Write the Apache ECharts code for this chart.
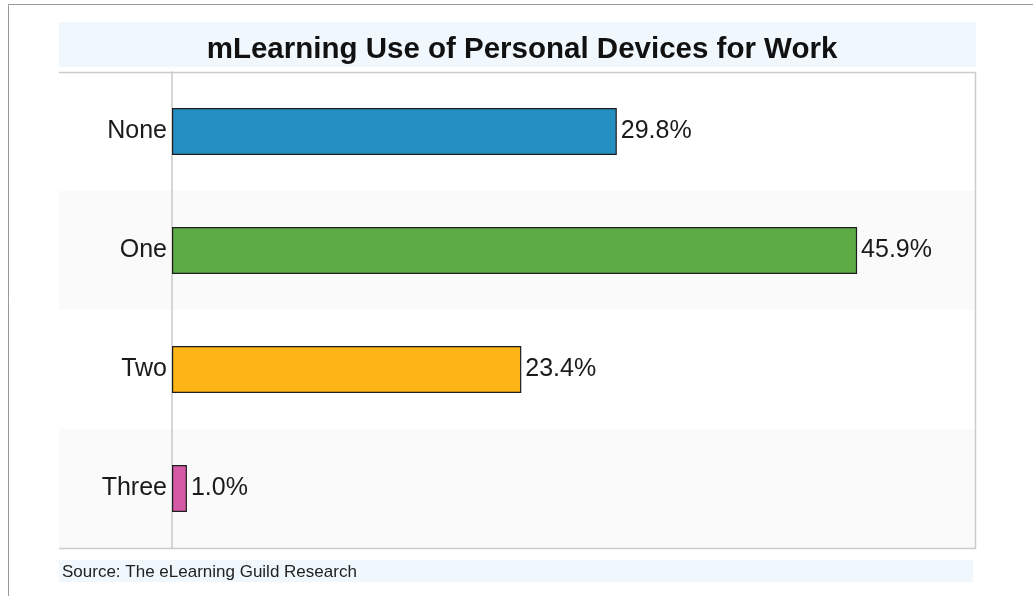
<!DOCTYPE html>
<html>
<head>
<meta charset="utf-8">
<script src="https://cdn.jsdelivr.net/npm/echarts@6/dist/echarts.min.js"></script>
<style>html,body{margin:0;padding:0;background:#fff}#c{width:1033px;height:596px}</style>
</head>
<body>
<div id="c"></div>
<script>
const categories = ['None', 'One', 'Two', 'Three'];
const values = [29.8, 45.9, 23.4, 1.0];
const barColors = ['#268fc2', '#5dab45', '#fdb516', '#d45aa5'];
const titleText = 'mLearning Use of Personal Devices for Work';
const sourceText = 'Source: The eLearning Guild Research';

const chart = echarts.init(document.getElementById('c'));
const font = 'Arial, "Liberation Sans", sans-serif';
chart.setOption({
  backgroundColor: '#ffffff',
  animation: false,
  graphic: [
    { type: 'rect', z: -10, silent: true, shape: { x: 8.5, y: 4.5, width: 1100, height: 700 }, style: { fill: '#fff', stroke: '#9a9a9a', lineWidth: 1 } },
    { type: 'rect', z: -9, silent: true, shape: { x: 59, y: 22, width: 917, height: 45 }, style: { fill: '#f0f8fd' } },
    { type: 'rect', z: -9, silent: true, shape: { x: 59, y: 191, width: 916, height: 119 }, style: { fill: '#fafafa' } },
    { type: 'rect', z: -9, silent: true, shape: { x: 59, y: 429, width: 916, height: 119 }, style: { fill: '#fafafa' } },
    { type: 'polyline', z: -8, silent: true, shape: { points: [[59, 72.5], [975.5, 72.5], [975.5, 548.5], [59, 548.5]] }, style: { fill: 'none', stroke: '#cccccc', lineWidth: 1.5 } },
    { type: 'rect', z: -9, silent: true, shape: { x: 59, y: 560, width: 914, height: 22 }, style: { fill: '#f0f8fd' } },
    { type: 'text', z: 10, silent: true, style: { x: 62, y: 572, text: sourceText, fill: '#222', font: '17px ' + font, verticalAlign: 'middle' } }
  ],
  title: {
    text: titleText,
    left: 517, top: 45, textAlign: 'center', textVerticalAlign: 'middle',
    textStyle: { fontFamily: font, fontSize: 29.5, fontWeight: 'bold', color: '#111' }
  },
  grid: { left: 172, right: 58, top: 72, bottom: 48, containLabel: false },
  xAxis: {
    type: 'value', min: 0, max: 53.8,
    axisLine: { show: false }, axisTick: { show: false }, axisLabel: { show: false },
    splitLine: { show: false }
  },
  yAxis: {
    type: 'category', data: categories, inverse: true,
    axisLine: { show: true, lineStyle: { color: '#c8c8c8', width: 1.5 } },
    axisTick: { show: false },
    axisLabel: { margin: 5, fontFamily: font, fontSize: 25, color: '#1a1a1a', padding: [3, 0, 0, 0] },
    splitLine: { show: false }
  },
  series: [{
    type: 'bar',
    data: values.map((v, i) => ({ value: v, itemStyle: { color: barColors[i] } })),
    barWidth: 47,
    itemStyle: { borderColor: '#1e1e1e', borderWidth: 1.2 },
    label: {
      show: true, position: 'right', distance: 4,
      formatter: p => p.value.toFixed(1) + '%',
      fontFamily: font, fontSize: 25, color: '#1a1a1a'
    }
  }]
});
</script>
</body>
</html>
